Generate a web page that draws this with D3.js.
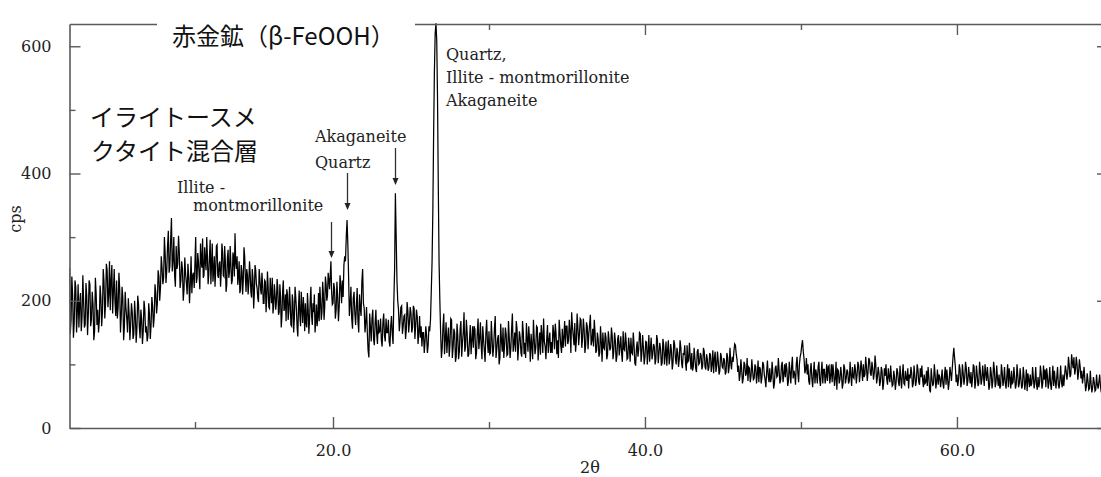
<!DOCTYPE html>
<html><head><meta charset="utf-8">
<script src="https://cdn.jsdelivr.net/npm/d3@7/dist/d3.min.js"></script>
<style>body{margin:0;background:#fff}svg{display:block}</style>
</head><body>
<svg id="chart" width="1101" height="477"></svg>
<script>
// ---- data ----
const startAngle = 2.0;   // 2θ of first sample
const stepAngle = 0.1;    // sampling step in 2θ
// counts at 2.0, 2.1, 2.2, ...
const cps = [
252,170,208,165,221,183,158,212,174,199,
163,207,180,226,171,194,152,210,186,168,
205,182,230,196,248,210,185,256,214,198,
232,190,218,176,205,160,188,150,179,164,
182,148,176,158,195,141,170,152,186,160,
145,178,162,190,175,212,196,238,220,252,
236,272,248,310,255,330,262,240,286,258,
275,232,250,218,242,210,238,226,212,244,
262,228,275,240,290,252,236,284,248,270,
242,296,258,230,270,248,288,236,262,244,
276,238,262,225,280,246,258,232,268,306,
250,225,262,218,246,232,270,214,240,228,
242,205,236,212,248,220,198,235,210,226,
196,230,205,222,188,214,236,192,210,198,
220,182,206,176,232,190,168,210,185,196,
160,198,172,206,158,190,176,214,165,184,
196,158,188,170,222,162,182,150,194,175,
168,200,182,212,190,226,208,232,240,214,
196,218,185,206,192,224,232,256,262,327,
238,196,172,204,180,192,168,210,176,250,
188,166,150,111,158,172,140,165,148,170,
152,138,166,145,172,150,136,160,148,200,
369,232,186,168,192,160,178,155,184,166,
180,158,188,162,175,150,142,128,150,136,
145,130,152,215,340,560,636,520,260,150,
125,180,140,118,158,132,170,126,150,112,
145,120,168,134,182,128,150,115,162,138,
126,155,118,172,140,130,160,122,148,135,
152,118,140,128,176,124,146,110,138,158,
130,148,116,142,125,180,132,120,155,128,
142,112,150,134,165,120,138,148,108,140,
126,158,130,115,145,172,128,140,118,150,
135,162,124,148,138,170,130,156,142,128,
160,138,152,182,145,165,136,158,148,170,
142,155,130,160,148,178,138,128,150,122,
140,118,135,150,124,142,115,138,126,145,
120,138,112,146,128,118,152,122,134,110,
128,142,116,130,98,136,124,148,118,126,
112,135,120,104,142,116,128,108,138,118,
124,102,130,115,98,138,110,120,104,132,
100,118,108,126,94,115,102,130,106,112,
118,96,110,88,124,102,114,98,120,92,
108,95,115,100,86,120,98,104,90,112,
94,106,88,112,96,102,112,120,130,108,
98,84,92,78,100,86,74,94,82,90,
78,96,84,72,92,80,100,76,88,82,
94,78,86,70,98,82,90,76,104,84,
80,92,74,88,96,78,84,100,86,100,
118,138,108,92,84,74,90,78,86,70,
84,96,76,88,70,92,80,74,98,82,
72,86,78,60,90,76,84,70,94,78,
88,74,82,96,78,90,84,98,86,92,
100,84,96,88,106,82,94,86,98,80,
86,74,90,70,82,76,94,72,80,68,
80,72,88,66,78,84,70,90,74,62,
78,86,70,82,74,92,68,80,76,84,
72,66,80,56,78,70,84,74,68,80,
76,70,82,68,78,72,86,94,126,96,
84,76,92,72,86,80,94,74,82,88,
78,96,72,84,70,90,76,82,100,74,
80,68,86,74,92,70,78,84,66,88,
76,70,82,64,78,90,72,80,68,84,
70,78,66,82,72,58,76,84,70,78,
74,68,80,72,86,70,76,64,82,72,
70,78,66,74,80,68,76,72,84,82,
90,86,98,84,104,111,92,100,88,96,
90,82,76,66,74,62,70,64,72,60,
68,72,66,70,62,68,74
];
// counts at the half steps 2.05, 2.15, 2.25, ...
const cpsHalf = [
148,238,142,232,150,226,196,152,240,158,
228,146,232,160,214,138,236,162,150,224,
160,250,172,258,190,262,232,180,250,176,
172,244,150,222,138,214,172,204,138,196,
140,200,134,208,160,186,132,200,150,136,
196,140,206,158,226,180,248,200,270,226,
300,228,286,244,298,246,300,222,250,302,
220,262,200,268,228,258,196,270,240,220,
300,236,262,218,262,298,240,262,300,226,
270,226,290,246,222,286,240,258,222,290,
240,286,214,268,236,286,226,276,238,260,
270,240,212,256,210,284,236,250,210,262,
214,250,188,256,226,204,250,218,244,196,
232,182,246,190,236,196,180,226,186,234,
178,226,158,214,184,210,218,170,222,162,
210,150,222,186,144,216,160,190,206,152,
164,212,148,202,176,196,210,168,160,212,
222,170,230,170,238,200,244,218,262,194,
228,172,230,168,240,196,206,270,300,290,
176,222,156,214,162,220,150,188,230,196,
150,190,122,180,136,186,130,186,132,150,
172,128,180,136,150,170,128,176,132,250,
300,200,152,190,148,176,140,198,150,190,
150,192,140,186,132,176,160,150,118,160,
118,160,170,260,460,620,610,380,200,110,
160,116,166,140,112,172,110,156,104,164,
108,156,112,150,120,170,112,138,116,160,
160,108,150,124,166,108,140,104,170,118,
116,168,112,156,110,140,100,164,120,110,
158,114,168,110,156,120,150,168,106,152,
118,168,116,110,140,160,104,128,170,116,
160,106,150,162,118,136,108,162,138,118,
118,150,164,116,110,150,118,126,168,160,
132,170,118,160,130,120,180,130,172,126,
172,118,166,124,162,130,156,170,118,150,
112,160,104,126,150,108,152,122,158,108,
150,104,140,114,144,104,124,150,108,142,
104,118,150,102,124,112,150,104,146,100,
136,100,146,126,108,132,100,146,102,134,
98,140,100,136,122,100,132,92,138,110,
126,96,138,102,118,130,90,104,134,92,
90,126,94,120,100,118,92,126,96,116,
90,118,88,122,110,88,120,84,118,96,
110,84,118,86,126,92,104,132,116,88,
74,108,70,104,82,110,96,72,108,76,
100,70,106,96,70,104,84,64,106,72,
72,104,62,94,80,110,70,98,72,100,
102,66,104,70,112,90,68,112,72,112,
130,120,86,110,100,68,102,64,104,92,
70,104,66,104,92,70,100,96,70,100,
100,66,104,92,70,96,62,100,70,92,
70,104,66,80,100,70,104,72,106,74,
80,112,74,110,86,104,76,114,70,96,
66,96,60,94,100,68,80,98,66,90,
60,94,72,98,62,100,68,78,94,84,
96,64,98,66,100,72,94,98,64,70,
90,96,60,94,66,100,62,92,84,64,
92,62,96,92,60,96,74,112,110,72,
66,100,64,100,68,104,66,96,70,64,
100,62,98,66,104,68,98,66,86,96,
60,96,62,104,64,98,66,62,100,66,
96,62,100,94,62,70,96,62,100,64,
94,62,96,60,92,86,64,66,96,62,
96,60,64,98,62,98,92,94,62,96,
60,98,90,62,96,62,98,64,66,98,
76,112,80,116,94,84,112,76,108,78,
70,96,58,86,60,90,56,80,58,84,
62,84,56,86,58,80
];
const xMajorTicks = [20, 40, 60];
const xMinorTicks = [10, 30, 50];
const xTickLabels = ["20.0", "40.0", "60.0"];
const yMajorTicks = [0, 200, 400, 600];
const yMinorTicks = [100, 300, 500];
const yTickLabels = ["0", "200", "400", "600"];
const xTitle = "2θ";
const yTitle = "cps";
const chartTitle = "赤金鉱（β-FeOOH）";
const jpNote = ["イライトースメ", "クタイト混合層"];
const peakAngles = [19.85, 20.9, 24.0, 26.6];
const noteIllite = ["Illite -", "montmorillonite"];
const noteAkaQ = ["Akaganeite", "Quartz"];
const noteMain = ["Quartz,", "Illite - montmorillonite", "Akaganeite"];

// ---- layout ----
const L = 69.5, R = 1107, T = 24, B = 428;
const svg = d3.select("#chart");
const x = d3.scaleLinear().domain([2, 10, 20, 69.62]).range([L, 195, 333, R]);
const y = d3.scaleLinear().domain([0, 635]).range([B, T]);
const serif = "'DejaVu Serif', 'Liberation Serif', serif";
const cjk = "'Noto Sans CJK JP', 'Noto Sans CJK SC', sans-serif";
const frameColor = "#5a5a5a";

const data = [];
cps.forEach((v, i) => {
  data.push({a: startAngle + i * stepAngle, v});
  if (i < cpsHalf.length) data.push({a: startAngle + (i + 0.5) * stepAngle, v: cpsHalf[i]});
});

svg.append("clipPath").attr("id", "clip").append("rect")
  .attr("x", L).attr("y", T - 1).attr("width", R - L).attr("height", B - T + 1);

// data line
svg.append("path").datum(data)
  .attr("clip-path", "url(#clip)")
  .attr("fill", "none").attr("stroke", "#000").attr("stroke-width", 1.25)
  .attr("stroke-linejoin", "miter")
  .attr("d", d3.line().x(d => x(d.a)).y(d => y(d.v)));

function styleAxis(g) {
  g.select(".domain").attr("stroke", frameColor).attr("stroke-width", 1.6);
  g.selectAll(".tick line").attr("stroke", frameColor).attr("stroke-width", 1.4);
  g.selectAll(".tick text").attr("fill", "#222").style("font-family", serif).style("font-size", "16px");
}
function minor(g) {
  g.select(".domain").remove();
  g.selectAll(".tick line").attr("stroke", frameColor).attr("stroke-width", 1.4);
}
// bottom
const gB = svg.append("g").attr("transform", `translate(0,${B})`)
  .call(d3.axisBottom(x).tickValues(xMajorTicks).tickSizeInner(-11).tickSizeOuter(0)
    .tickPadding(22).tickFormat((d, i) => xTickLabels[i]));
styleAxis(gB);
gB.selectAll(".tick text").attr("dy", "0.35em");
svg.append("g").attr("transform", `translate(0,${B})`)
  .call(d3.axisBottom(x).tickValues(xMinorTicks).tickSizeInner(-6).tickSizeOuter(0).tickFormat("")).call(minor);
// top
const gT = svg.append("g").attr("transform", `translate(0,${T})`)
  .call(d3.axisTop(x).tickValues(xMajorTicks).tickSizeInner(-11).tickSizeOuter(0).tickFormat(""));
styleAxis(gT);
svg.append("g").attr("transform", `translate(0,${T})`)
  .call(d3.axisTop(x).tickValues(xMinorTicks).tickSizeInner(-6).tickSizeOuter(0).tickFormat("")).call(minor);
// left
const gL = svg.append("g").attr("transform", `translate(${L},0)`)
  .call(d3.axisLeft(y).tickValues(yMajorTicks).tickSizeInner(-11).tickSizeOuter(0)
    .tickPadding(18).tickFormat((d, i) => yTickLabels[i]));
styleAxis(gL);
svg.append("g").attr("transform", `translate(${L},0)`)
  .call(d3.axisLeft(y).tickValues(yMinorTicks).tickSizeInner(-6).tickSizeOuter(0).tickFormat("")).call(minor);
// right
const gR = svg.append("g").attr("transform", `translate(${R},0)`)
  .call(d3.axisRight(y).tickValues(yMajorTicks).tickSizeInner(-10).tickSizeOuter(0).tickFormat(""));
styleAxis(gR);

// axis titles
svg.append("text").attr("x", 590).attr("y", 473).attr("text-anchor", "middle")
  .style("font-family", serif).style("font-size", "16px").attr("fill", "#222").text(xTitle);
svg.append("text").attr("transform", "translate(21,219) rotate(-90)").attr("text-anchor", "middle")
  .style("font-family", serif).style("font-size", "16px").attr("fill", "#222").text(yTitle);

// chart title on a white box breaking the top frame
svg.append("rect").attr("x", 157).attr("y", 12).attr("width", 258).attr("height", 24).attr("fill", "#fff");
svg.append("text").attr("x", 172).attr("y", 34).attr("dominant-baseline", "central")
  .style("font-family", cjk).style("font-size", "24px").attr("fill", "#111").text(chartTitle);

// Japanese note
svg.selectAll("text.jp").data(jpNote).join("text").attr("class", "jp")
  .attr("x", (d, i) => i === 0 ? 90 : 91).attr("y", (d, i) => 115 + i * 34)
  .attr("dominant-baseline", "central")
  .style("font-family", cjk).style("font-size", "24px").attr("fill", "#111").text(d => d);

// annotations
function note(x0, yBase, t) {
  svg.append("text").attr("x", x0).attr("y", yBase)
    .style("font-family", serif).style("font-size", "16px").attr("fill", "#222").text(t);
}
function arrow(a, y1, y2) {
  const xx = Math.round(x(a)) + 0.5;
  svg.append("line").attr("x1", xx).attr("x2", xx).attr("y1", y1).attr("y2", y2 - 6)
    .attr("stroke", "#333").attr("stroke-width", 1.3);
  svg.append("path").attr("d", `M${xx - 3},${y2 - 7} L${xx + 3},${y2 - 7} L${xx},${y2} Z`).attr("fill", "#222");
}
note(177, 193, noteIllite[0]);
note(193, 211, noteIllite[1]);
noteAkaQ.forEach((t, i) => note(315, 142 + i * 26, t));
noteMain.forEach((t, i) => note(446, 60 + i * 23, t));
arrow(peakAngles[0], 222, 258);
arrow(peakAngles[1], 173, 210);
arrow(peakAngles[2], 148, 185);
</script>
</body></html>
